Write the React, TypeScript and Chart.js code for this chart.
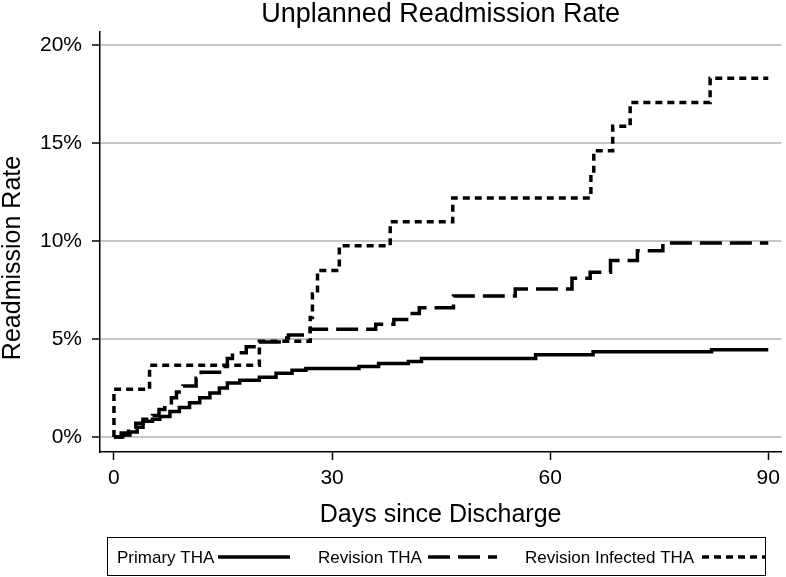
import React, { useEffect, useRef } from "react";
import { Chart, registerables } from "chart.js";

Chart.register(...registerables);

const chartTitle = "Unplanned Readmission Rate";
const xTitle = "Days since Discharge";
const yTitle = "Readmission Rate";
const seriesNames = ["Primary THA", "Revision THA", "Revision Infected THA"];

const xTicks = [0, 30, 60, 90];
const yTicks = [0, 5, 10, 15, 20];

const primaryDays = [0, 1.2, 2.2, 3.2, 4.0, 5.3, 6.3, 7.7, 9.0, 10.4, 11.8, 13.2, 14.5, 15.6, 17.3, 20.0, 22.3, 24.5, 26.4, 33.7, 36.4, 40.5, 42.3, 58.0, 65.9, 82.2, 90];
const primaryRate = [0, 0.1, 0.25, 0.5, 0.8, 0.9, 1.05, 1.3, 1.5, 1.75, 2.0, 2.25, 2.5, 2.75, 2.9, 3.05, 3.25, 3.4, 3.5, 3.6, 3.75, 3.85, 4.0, 4.2, 4.35, 4.45, 4.45];

const revisionDays = [0, 1.0, 2.0, 3.0, 4.0, 5.3, 6.2, 7.0, 7.9, 8.6, 9.5, 11.3, 12.0, 15.0, 15.6, 16.3, 18.2, 19.7, 23.0, 24.0, 27.0, 36.0, 38.5, 40.5, 42.0, 46.7, 55.2, 63.0, 65.5, 68.3, 72.0, 75.5, 90];
const revisionRate = [0, 0.2, 0.4, 0.7, 0.9, 1.1, 1.4, 1.6, 2.0, 2.3, 2.6, 3.0, 3.3, 3.6, 4.0, 4.3, 4.6, 4.85, 5.05, 5.2, 5.5, 5.75, 6.0, 6.3, 6.6, 7.2, 7.55, 8.1, 8.4, 9.0, 9.5, 9.9, 9.9];

const infectedDays = [0, 0, 4.9, 20.0, 27.0, 27.3, 28.0, 31.0, 38.0, 46.6, 65.6, 66.0, 68.6, 71.0, 82.0, 90];
const infectedRate = [0, 2.44, 3.66, 4.88, 6.1, 7.3, 8.5, 9.76, 10.98, 12.2, 13.4, 14.6, 15.85, 17.07, 18.3, 18.3];

const FONT = "'Liberation Sans', Arial, Helvetica, sans-serif";

const toPoints = (xs: number[], ys: number[]) => xs.map((x, i) => ({ x, y: ys[i] }));

const textPlugin = {
  id: "customTexts",
  afterDraw(chart: any) {
    const ctx = chart.ctx as CanvasRenderingContext2D;
    const area = chart.chartArea;
    const cx = (area.left + area.right) / 2;
    ctx.save();
    ctx.fillStyle = "#000";
    ctx.textBaseline = "alphabetic";
    ctx.textAlign = "center";
    ctx.font = `27px ${FONT}`;
    ctx.fillText(chartTitle, cx, 22);
    ctx.font = `25px ${FONT}`;
    ctx.fillText(xTitle, cx, 522);
    ctx.save();
    ctx.translate(20, 258);
    ctx.rotate(-Math.PI / 2);
    ctx.fillText(yTitle, 0, 0);
    ctx.restore();

    // legend box
    ctx.lineWidth = 1;
    ctx.strokeStyle = "#000";
    ctx.setLineDash([]);
    ctx.strokeRect(107.5, 537.5, 658, 38);
    const textX = [117, 318, 525];
    const sample = [[218, 290], [428, 497], [702, 765]];
    ctx.font = `17px ${FONT}`;
    ctx.textAlign = "left";
    chart.data.datasets.forEach((ds: any, i: number) => {
      ctx.fillText(ds.label, textX[i], 563);
      ctx.beginPath();
      ctx.lineWidth = ds.borderWidth;
      ctx.setLineDash(ds.borderDash || []);
      ctx.moveTo(sample[i][0], 557);
      ctx.lineTo(sample[i][1], 557);
      ctx.stroke();
    });
    ctx.restore();
  },
};

export default function App() {
  const ref = useRef<HTMLCanvasElement | null>(null);
  useEffect(() => {
    if (!ref.current) return;
    const chart = new Chart(ref.current, {
      type: "line",
      data: {
        datasets: [
          {
            label: seriesNames[0],
            data: toPoints(primaryDays, primaryRate),
            borderColor: "#000",
            borderWidth: 3.5,
            borderDash: [],
            stepped: "before",
            pointRadius: 0,
            fill: false,
          },
          {
            label: seriesNames[1],
            data: toPoints(revisionDays, revisionRate),
            borderColor: "#000",
            borderWidth: 3.5,
            borderDash: [22, 8],
            stepped: "before",
            pointRadius: 0,
            fill: false,
          },
          {
            label: seriesNames[2],
            data: toPoints(infectedDays, infectedRate),
            borderColor: "#000",
            borderWidth: 3.5,
            borderDash: [7, 5],
            stepped: "before",
            pointRadius: 0,
            fill: false,
          },
        ],
      },
      options: {
        responsive: false,
        animation: false,
        devicePixelRatio: 1,
        layout: { padding: { left: 0, right: 2, top: 32, bottom: 0 } },
        plugins: {
          legend: { display: false },
          title: { display: false },
          tooltip: { enabled: false },
        },
        scales: {
          x: {
            type: "linear",
            min: -1.918,
            max: 91.78,
            afterBuildTicks: (s: any) => {
              s.ticks = xTicks.map((v) => ({ value: v }));
            },
            afterFit: (s: any) => {
              s.height = 125;
            },
            ticks: {
              color: "#000",
              font: { family: FONT, size: 21 },
              padding: 6,
              maxRotation: 0,
              autoSkip: false,
            },
            grid: {
              drawOnChartArea: false,
              drawTicks: true,
              tickLength: 8,
              tickColor: "#000",
              tickWidth: 1.5,
            },
            border: { display: true, color: "#000", width: 1.5 },
          },
          y: {
            type: "linear",
            min: -0.765,
            max: 20.663,
            afterBuildTicks: (s: any) => {
              s.ticks = yTicks.map((v) => ({ value: v }));
            },
            afterFit: (s: any) => {
              s.width = 100;
            },
            ticks: {
              color: "#000",
              font: { family: FONT, size: 21 },
              padding: 10,
              autoSkip: false,
              callback: (v: any) => `${v}%`,
            },
            grid: {
              color: "#c6c6c6",
              lineWidth: 2,
              drawTicks: true,
              tickLength: 8,
              tickColor: "#000",
              tickWidth: 1.5,
            },
            border: { display: true, color: "#000", width: 1.5 },
          },
        },
      },
      plugins: [textPlugin],
    });
    return () => chart.destroy();
  }, []);
  return (
    <div style={{ position: "absolute", left: 0, top: 0, width: 786, height: 577, background: "#fff" }}>
      <canvas ref={ref} width={786} height={577} style={{ width: 786, height: 577, display: "block" }} />
    </div>
  );
}
